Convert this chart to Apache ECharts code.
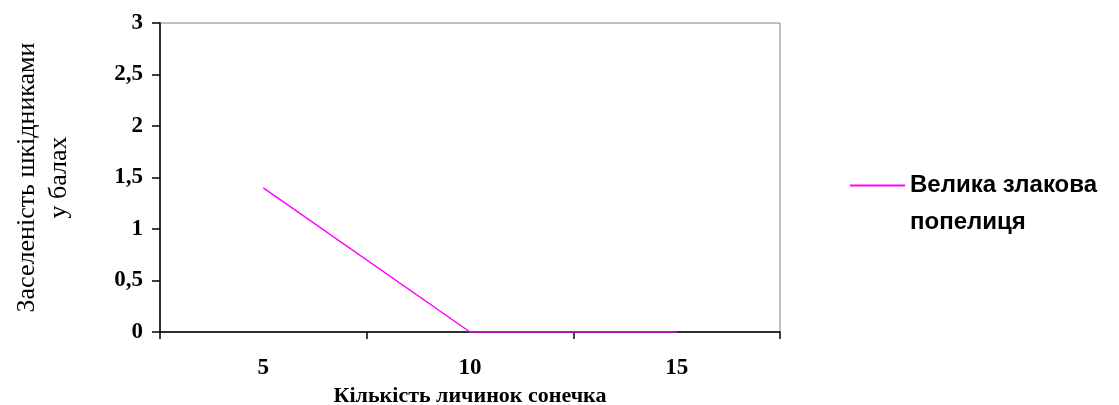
<!DOCTYPE html>
<html>
<head>
<meta charset="utf-8">
<script src="https://cdn.jsdelivr.net/npm/echarts@6/dist/echarts.min.js"></script>
<style>
  html, body { margin: 0; padding: 0; background: #fff; }
  #chart { width: 1119px; height: 405px; }
</style>
</head>
<body>
<div id="chart"></div>
<script>
// Number of ladybird larvae (x) vs. pest infestation score (y)
const larvaeCounts = ['5', '10', '15'];
const aphidScores = [1.4, 0, 0];
const seriesName = 'Велика злакова\nпопелиця';
const yTitle = 'Заселеність шкідниками\nу балах';
const xTitle = 'Кількість личинок сонечка';

const chart = echarts.init(document.getElementById('chart'));
chart.setOption({
  animation: false,
  backgroundColor: '#fff',
  grid: {
    left: 160, right: 339, top: 23, bottom: 73,
    containLabel: false, outerBoundsMode: 'none',
    show: true, borderColor: '#808080', borderWidth: 1, backgroundColor: 'transparent'
  },
  legend: {
    left: 850, top: 130, padding: 0,
    itemWidth: 55, itemHeight: 2, itemGap: 0,
    icon: 'rect',
    // leading blank line keeps the key line level with the first text line
    formatter: name => '\n' + name,
    textStyle: {
      fontFamily: 'Liberation Sans', fontWeight: 'bold', fontSize: 24, color: '#000',
      lineHeight: 37
    },
    data: [{ name: seriesName, itemStyle: { color: '#ff00ff' } }]
  },
  xAxis: {
    type: 'category',
    data: larvaeCounts,
    boundaryGap: true,
    name: xTitle,
    nameLocation: 'middle',
    nameGap: 45,
    nameTextStyle: { fontFamily: 'Liberation Serif', fontWeight: 'bold', fontSize: 22, color: '#000' },
    axisLine: { lineStyle: { color: '#000', width: 1.5 } },
    axisTick: { show: true, length: 7, lineStyle: { color: '#000', width: 1.5 } },
    axisLabel: { margin: 25, fontFamily: 'Liberation Serif', fontWeight: 'bold', fontSize: 23, color: '#000' },
    splitLine: { show: false }
  },
  yAxis: {
    type: 'value',
    min: 0, max: 3, interval: 0.5,
    name: yTitle,
    nameLocation: 'middle',
    nameGap: 85,
    nameRotate: 90,
    nameTextStyle: { fontFamily: 'Liberation Serif', fontSize: 26, color: '#000', lineHeight: 32 },
    axisLine: { show: true, lineStyle: { color: '#000', width: 1.5 } },
    axisTick: { show: true, length: 8, lineStyle: { color: '#000', width: 1.5 } },
    axisLabel: {
      margin: 17, fontFamily: 'Liberation Serif', fontWeight: 'bold', fontSize: 23, color: '#000',
      formatter: v => String(v).replace('.', ',')
    },
    splitLine: { show: false }
  },
  series: [{
    name: seriesName,
    type: 'line',
    data: aphidScores,
    symbol: 'none',
    lineStyle: { color: '#ff00ff', width: 1.5 },
    itemStyle: { color: '#ff00ff' }
  }]
});
</script>
</body>
</html>
